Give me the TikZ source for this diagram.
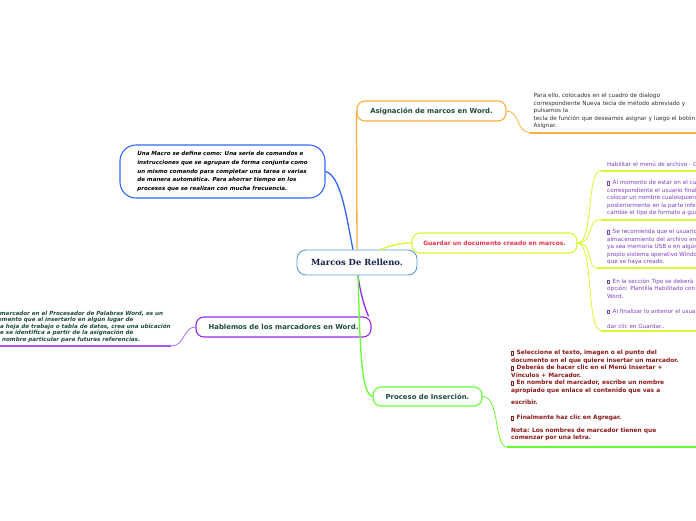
\documentclass[tikz,border=0pt]{standalone}
\usepackage{fontspec}
\setmainfont{DejaVu Sans}
\newfontfamily\titlefont{DejaVu Serif}
\usepackage{tikz}
\usetikzlibrary{positioning}
\definecolor{mapblue}{RGB}{51,102,255}
\definecolor{centreblue}{RGB}{91,155,213}
\definecolor{maporange}{RGB}{255,175,60}
\definecolor{maplime}{RGB}{214,250,50}
\definecolor{mappurple}{RGB}{150,40,250}
\definecolor{mapgreen}{RGB}{102,255,51}
\definecolor{labelgreen}{RGB}{30,75,60}
\definecolor{labelred}{RGB}{232,52,74}
\definecolor{notepurple}{RGB}{128,64,192}
\definecolor{notered}{RGB}{139,26,26}
\definecolor{notegray}{RGB}{50,50,50}
\definecolor{titlenavy}{RGB}{20,30,70}
\newcommand{\qbox}{{\fboxsep=0pt\fboxrule=0.35pt\fbox{\rule{0pt}{3.2pt}\hspace{1.8pt}}}\hspace{3pt}}

\begin{document}
\begin{tikzpicture}[
    x=1pt, y=-1pt,
    topic/.style={rectangle, rounded corners=8pt, draw, line width=1.1pt, fill=white, text=labelgreen, font=\fontsize{6.9}{8}\selectfont\bfseries, inner sep=0pt, minimum height=20pt},
    note/.style={anchor=north west, align=left, inner sep=0pt, font=\fontsize{5.65}{7.5}\selectfont},
    branch/.style={line width=1.3pt},
    noteline/.style={line width=2pt}
]
    \fill[white] (0,0) rectangle (696,520);
    \useasboundingbox (0,0) rectangle (696,520);
    \clip (0,0) rectangle (696,520);

    % main topic and branches
    \node[topic, draw=centreblue, line width=0.9pt, rounded corners=9pt, minimum width=120pt, minimum height=25pt, text=titlenavy, font=\fontsize{8.4}{9}\selectfont\titlefont\bfseries] (centre) at (357,262.5) {Marcos De Relleno.};
    \node[topic, draw=mapblue, rounded corners=16pt, minimum width=205pt, minimum height=53pt, text=black, align=left, font=\fontsize{5.55}{8.6}\selectfont\bfseries\itshape] (macro) at (222.5,171.5) {Una Macro se define como: Una serie de comandos e\\instrucciones que se agrupan de forma conjunta como\\un mismo comando para completar una tarea o varias\\de manera automática. Para ahorrar tiempo en los\\procesos que se realizan con mucha frecuencia.};
    \node[topic, draw=maporange, minimum width=149pt] (asign) at (431.5,111) {Asignación de marcos en Word.};
    \node[topic, draw=maplime, minimum width=165pt, text=labelred, font=\fontsize{6}{7}\selectfont\bfseries] (guardar) at (494.5,243) {Guardar un documento creado en marcos.};
    \node[topic, draw=mappurple, minimum width=175pt] (hablemos) at (283.5,327) {Hablemos de los marcadores en Word.};
    \node[topic, draw=mapgreen, minimum width=109pt, minimum height=19pt] (proceso) at (427.5,396.5) {Proceso de Inserción.};

    % notes
    \node[note, text=notegray, font=\fontsize{5.75}{7.5}\selectfont] (asignnote) at (533.5,93) {Para ello, colocados en el cuadro de dialogo\\correspondiente Nueva tecla de método abreviado y\\pulsamos la\\tecla de función que deseamos asignar y luego el botón\\Asignar.};
    \node[note, text=notepurple] (archivonote) at (607,161.4) {Habilitar el menú de archivo - Guardar};
    \node[note, text=notepurple] (nombrenote) at (607,180.4) {\qbox Al momento de estar en el cuadro\\correspondiente el usuario final debe\\colocar un nombre cualesquiera y\\posteriormente en la parte inferior\\cambie el tipo de formato a guardar};
    \node[note, text=notepurple] (usbnote) at (607,229.4) {\qbox Se recomienda que el usuario\\almacenamiento del archivo en\\ya sea memoria USB o en algún\\propio sistema operativo Windows\\que se haya creado.};
    \node[note, text=notepurple] (tiponote) at (607,278.4) {\qbox En la sección Tipo se deberá\\opción: Plantilla Habilitado con\\Word.\\[7.5pt]\qbox Al finalizar lo anterior el usuario\\[7.5pt]dar clic en Guardar..};
    \node[note, text=labelgreen, font=\fontsize{5.6}{6.6}\selectfont\bfseries\itshape] (marcadornote) at (-8,310.7) {El marcador en el Procesador de Palabras Word, es un\\elemento que al insertarlo en algún lugar de\\una hoja de trabajo o tabla de datos, crea una ubicación\\que se identifica a partir de la asignación de\\un nombre particular para futuras referencias.};
    \node[note, text=notered, font=\fontsize{5.9}{7.5}\selectfont\bfseries] (procesonote) at (511,350) {\qbox Seleccione el texto, imagen o el punto del\\documento en el que quiere insertar un marcador.\\\qbox Deberás de hacer clic en el Menú Insertar +\\Vínculos + Marcador.\\\qbox En nombre del marcador, escribe un nombre\\apropiado que enlace el contenido que vas a\\[4.8pt]escribir.\\[7.7pt]\qbox Finalmente haz clic en Agregar.\\[5.3pt]Nota: Los nombres de marcador tienen que\\comenzar por una letra.};

    % underline ends
    \coordinate (asignline) at (530,132.5);
    \coordinate (asignend) at (700,132.5);
    \coordinate (archivoline) at (601,170.5);
    \coordinate (archivoend) at (700,170.5);
    \coordinate (nombreline) at (601,219.5);
    \coordinate (nombreend) at (700,219.5);
    \coordinate (usbline) at (597,268);
    \coordinate (usbend) at (700,268);
    \coordinate (tipoline) at (601,330.5);
    \coordinate (tipoend) at (700,330.5);
    \coordinate (marcadorline) at (171,346);
    \coordinate (marcadorend) at (-5,346);
    \coordinate (procesoline) at (507,447);
    \coordinate (procesoend) at (700,447);

    % connectors
    \draw[branch, mapblue] ([xshift=-4pt]centre.north) .. controls (346,215) and (341,176) .. (macro.east);
    \draw[branch, maporange] (centre.north) -- (asign.west);
    \draw[branch, maplime] ([xshift=23pt]centre.north) .. controls (392,245) and (400,243) .. (guardar.west);
    \draw[branch, mappurple] ([xshift=1pt]centre.south) .. controls (361,298) and (366,310) .. ([xshift=-3pt]hablemos.north east);
    \draw[branch, mapgreen] ([xshift=1pt]centre.south) .. controls (360,335) and (360,394) .. (proceso.west);

    \draw[branch, maporange, line width=0.8pt] (asign.east) .. controls (520,111) and (516,132.5) .. (asignline);
    \draw[noteline, maporange] (asignline) -- (asignend);
    \foreach \n/\y in {archivo/170.5, nombre/219.5, usb/268, tipo/330.5} {
        \draw[branch, maplime, line width=0.8pt] (guardar.east) .. controls (594,243) and (586,\y) .. (\n line);
        \draw[noteline, maplime] (\n line) -- (\n end);
    }
    \draw[branch, mappurple!70, line width=0.8pt] (hablemos.west) .. controls (183,327) and (185,346) .. (marcadorline);
    \draw[noteline, mappurple!80] (marcadorline) -- (marcadorend);
    \draw[branch, mapgreen, line width=0.8pt] (proceso.east) .. controls (500,396.5) and (494,447) .. (procesoline);
    \draw[noteline, mapgreen] (procesoline) -- (procesoend);
\end{tikzpicture}
\end{document}
